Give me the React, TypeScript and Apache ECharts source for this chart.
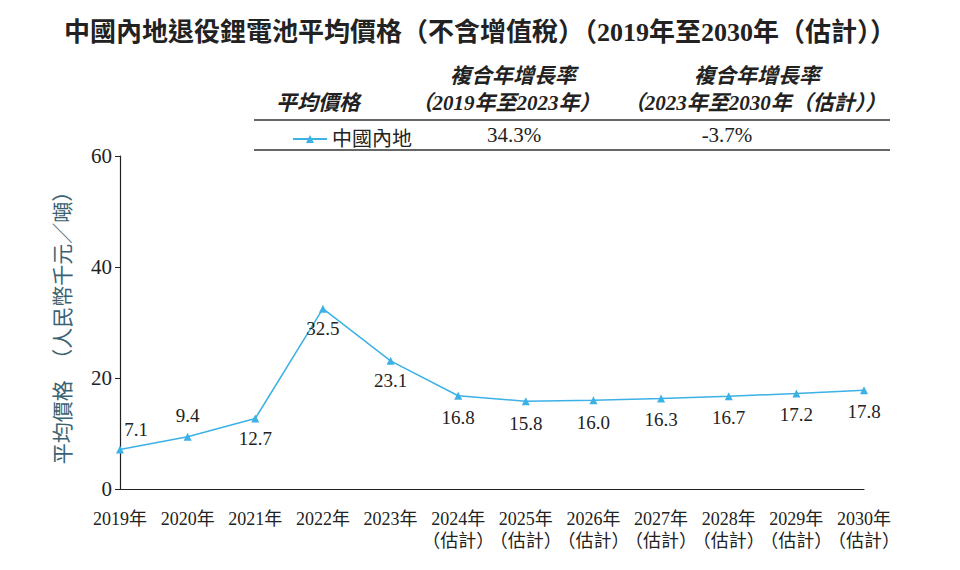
import React, { useEffect, useRef } from "react";
import * as echarts from "echarts";

const categories = [
  "2019年", "2020年", "2021年", "2022年", "2023年",
  "2024年\n（估計）", "2025年\n（估計）", "2026年\n（估計）", "2027年\n（估計）",
  "2028年\n（估計）", "2029年\n（估計）", "2030年\n（估計）",
];
const values = [7.1, 9.4, 12.7, 32.5, 23.1, 16.8, 15.8, 16.0, 16.3, 16.7, 17.2, 17.8];
const labelOffsets: number[][] = [
  [16, -20], [0, -21], [0, 20], [0, 20], [0, 20], [0, 22],
  [0, 22], [0, 22], [0, 21], [0, 21], [0, 21], [0, 21],
];
const yTicks = { min: 0, max: 60, interval: 20 };
const seriesName = "中國內地";
const cagr1 = "34.3%";
const cagr2 = "-3.7%";

const SERIF = "'Liberation Serif', 'Noto Sans CJK TC', serif";
const BLUE = "#3cb1e6";

export default function App() {
  const ref = useRef<HTMLDivElement>(null);
  useEffect(() => {
    document.body.style.margin = "0";
    const chart = echarts.init(ref.current!, null, { renderer: "svg" });
    const hdr = { fontFamily: SERIF, fontSize: 21, fontStyle: "italic", fontWeight: "bold", fill: "#222", align: "center", verticalAlign: "middle" };
    chart.setOption({
      animation: false,
      backgroundColor: "#fff",
      title: {
        text: "中國內地退役鋰電池平均價格（不含增值稅）（2019年至2030年（估計））",
        left: "center",
        top: 14,
        textStyle: { fontFamily: SERIF, fontSize: 26, fontWeight: "bold", color: "#222" },
      },
      legend: {
        data: [seriesName],
        left: 287,
        top: 124,
        itemWidth: 34,
        itemHeight: 10,
        itemGap: 8,
        textStyle: { fontFamily: SERIF, fontSize: 20, color: "#222" },
      },
      grid: { left: 120, right: 96, top: 156, bottom: 81 },
      xAxis: {
        type: "category",
        data: categories,
        boundaryGap: false,
        axisLine: { lineStyle: { color: "#222", width: 1.2 } },
        axisTick: { show: false },
        axisLabel: {
          interval: 0,
          fontFamily: SERIF,
          fontSize: 18,
          color: "#222",
          lineHeight: 22,
          margin: 19,
        },
      },
      yAxis: {
        type: "value",
        min: yTicks.min,
        max: yTicks.max,
        interval: yTicks.interval,
        name: "平均價格　（人民幣千元／噸）",
        nameLocation: "middle",
        nameRotate: 90,
        nameGap: 47,
        nameTextStyle: { fontFamily: SERIF, fontSize: 21, color: "#3a6272" },
        axisLine: { show: true, lineStyle: { color: "#222", width: 1.2 } },
        axisTick: { show: true, length: 5, lineStyle: { color: "#222" } },
        splitLine: { show: false },
        axisLabel: { fontFamily: SERIF, fontSize: 21, color: "#222", margin: 8 },
      },
      series: [
        {
          name: seriesName,
          type: "line",
          symbol: "triangle",
          symbolSize: 8,
          lineStyle: { color: BLUE, width: 1.5 },
          itemStyle: { color: BLUE },
          data: values.map((v, i) => ({
            value: v,
            label: { offset: labelOffsets[i] },
          })),
          label: {
            show: true,
            position: "inside",
            fontFamily: SERIF,
            fontSize: 19,
            color: "#222",
            formatter: (p: any) => Number(p.value).toFixed(1),
          },
        },
      ],
      graphic: [
        { type: "line", shape: { x1: 254, y1: 120, x2: 890, y2: 120 }, style: { stroke: "#333", lineWidth: 1.5 } },
        { type: "line", shape: { x1: 254, y1: 150, x2: 890, y2: 150 }, style: { stroke: "#333", lineWidth: 1.5 } },
        { type: "text", x: 318, y: 103, style: { ...hdr, text: "平均價格" } },
        { type: "text", x: 513, y: 76, style: { ...hdr, text: "複合年增長率" } },
        { type: "text", x: 506, y: 103, style: { ...hdr, text: "（2019年至2023年）" } },
        { type: "text", x: 757, y: 76, style: { ...hdr, text: "複合年增長率" } },
        { type: "text", x: 755, y: 103, style: { ...hdr, text: "（2023年至2030年（估計））" } },
        {
          type: "text", x: 514, y: 135,
          style: { text: cagr1, fontFamily: SERIF, fontSize: 21, fill: "#222", align: "center", verticalAlign: "middle" },
        },
        {
          type: "text", x: 727, y: 135,
          style: { text: cagr2, fontFamily: SERIF, fontSize: 21, fill: "#222", align: "center", verticalAlign: "middle" },
        },
      ],
    });
    return () => chart.dispose();
  }, []);
  return <div ref={ref} style={{ width: 960, height: 570 }} />;
}
